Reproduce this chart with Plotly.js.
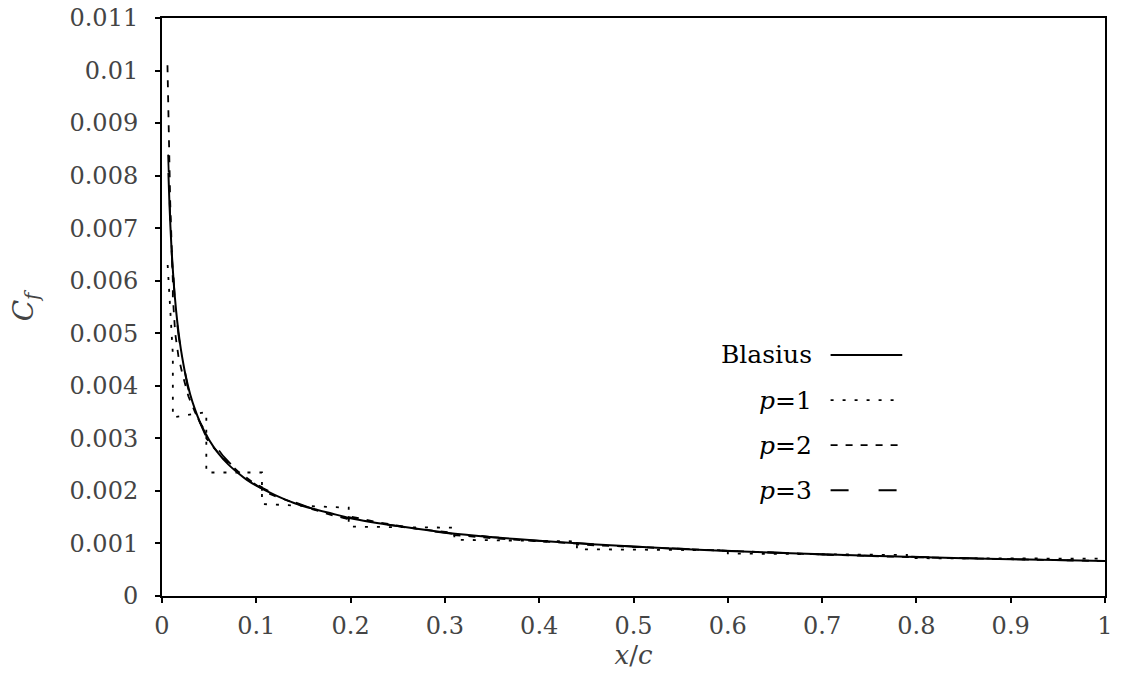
<!DOCTYPE html>
<html>
<head>
<meta charset="utf-8">
<script src="https://cdn.plot.ly/plotly-3.0.1.min.js"></script>
<style>
html,body{margin:0;padding:0;background:#fff;}
#chart{width:1127px;height:686px;}
</style>
</head>
<body>
<div id="chart"></div>
<script>
// ---- data ----
const blasiusX = [0.0068, 0.008, 0.01, 0.0125, 0.015, 0.0175, 0.02, 0.025, 0.03, 0.035, 0.04, 0.05, 0.06, 0.07, 0.08, 0.09, 0.1, 0.12, 0.14, 0.16, 0.18, 0.2, 0.25, 0.3, 0.35, 0.4, 0.5, 0.6, 0.7, 0.8, 0.9, 1.0];
const blasiusY = [0.00805, 0.00742, 0.00664, 0.00594, 0.00542, 0.00502, 0.00470, 0.00420, 0.00383, 0.00355, 0.00332, 0.00297, 0.00271, 0.00251, 0.00235, 0.00221, 0.00210, 0.00192, 0.00177, 0.00166, 0.00157, 0.00148, 0.00133, 0.00121, 0.00112, 0.00105, 0.00094, 0.000857, 0.000794, 0.000742, 0.000700, 0.000664];

const p1X = [0.006, 0.0115, 0.0115, 0.047, 0.047, 0.106, 0.106, 0.198, 0.198, 0.31, 0.31, 0.44, 0.44, 0.6, 0.6, 0.79, 0.79, 1.0];
const p1Y = [0.0063, 0.0046, 0.0034, 0.0035, 0.00235, 0.00235, 0.00175, 0.00168, 0.00132, 0.0013, 0.00107, 0.00104, 0.00089, 0.00087, 0.00081, 0.00078, 0.00072, 0.00071];

const p2X = [0.0058, 0.0073, 0.0087, 0.0115,
             0.0115, 0.014, 0.0175, 0.022, 0.028, 0.035, 0.041, 0.047,
             0.047, 0.055, 0.065, 0.08, 0.095, 0.106,
             0.106, 0.12, 0.14, 0.16, 0.18, 0.198,
             0.198, 0.23, 0.27, 0.31,
             0.31, 0.35, 0.4, 0.44,
             0.44, 0.5, 0.55, 0.6,
             0.6, 0.7, 0.79,
             0.79, 0.9, 1.0];
const p2Y = [0.0101, 0.0088, 0.0075, 0.0060,
             0.0057, 0.0050, 0.00455, 0.0042, 0.0038, 0.0035, 0.00328, 0.0031,
             0.0030, 0.00282, 0.00262, 0.00238, 0.00218, 0.00207,
             0.0020, 0.0019, 0.00177, 0.00165, 0.00154, 0.00146,
             0.00152, 0.0014, 0.00128, 0.0012,
             0.00116, 0.0011, 0.00104, 0.001,
             0.00098, 0.00093, 0.00089, 0.00086,
             0.00086, 0.00079, 0.000745,
             0.00074, 0.0007, 0.000665];

const p3X = [0.0065, 0.008, 0.0095, 0.0115,
             0.0115, 0.014, 0.018, 0.022, 0.027, 0.033, 0.04, 0.047,
             0.047, 0.055, 0.065, 0.08, 0.095, 0.106,
             0.106, 0.12, 0.14, 0.16, 0.18, 0.198,
             0.198, 0.23, 0.27, 0.31,
             0.31, 0.35, 0.4, 0.44,
             0.44, 0.5, 0.55, 0.6,
             0.6, 0.7, 0.79,
             0.79, 0.9, 1.0];
const p3Y = [0.0084, 0.0074, 0.0068, 0.0061,
             0.0063, 0.0055, 0.0049, 0.0045, 0.0040, 0.0036, 0.0033, 0.00302,
             0.00312, 0.0029, 0.00266, 0.00238, 0.00217, 0.00204,
             0.00206, 0.00194, 0.00179, 0.00166, 0.00156, 0.00147,
             0.0015, 0.00139, 0.00127, 0.00118,
             0.0012, 0.00112, 0.00105, 0.00099,
             0.00101, 0.00094, 0.0009, 0.00086,
             0.000865, 0.00079, 0.000745,
             0.00075, 0.0007, 0.000665];

const legendLabels = ['Blasius', '<i>p</i>=1', '<i>p</i>=2', '<i>p</i>=3'];
const xTickVals = [0, 0.1, 0.2, 0.3, 0.4, 0.5, 0.6, 0.7, 0.8, 0.9, 1];
const xTickText = ['0', '0.1', '0.2', '0.3', '0.4', '0.5', '0.6', '0.7', '0.8', '0.9', '1'];
const yTickVals = [0, 0.001, 0.002, 0.003, 0.004, 0.005, 0.006, 0.007, 0.008, 0.009, 0.01, 0.011];
const yTickText = ['0', '0.001', '0.002', '0.003', '0.004', '0.005', '0.006', '0.007', '0.008', '0.009', '0.01', '0.011'];

// ---- styles ----
const FONT = 'DejaVu Serif';
const dashes = ['solid', '3px,9px', '7px,8px', '18px,30px'];
const widths = [2, 1.8, 1.8, 1.8];

const traces = [
  {x: blasiusX, y: blasiusY, mode: 'lines', line: {color: '#000', width: widths[0], dash: dashes[0], shape: 'spline', smoothing: 0.6}},
  {x: p1X, y: p1Y, mode: 'lines', line: {color: '#000', width: widths[1], dash: dashes[1]}},
  {x: p2X, y: p2Y, mode: 'lines', line: {color: '#000', width: widths[2], dash: dashes[2]}},
  {x: p3X, y: p3Y, mode: 'lines', line: {color: '#000', width: widths[3], dash: dashes[3]}}
];

// custom legend: text on the left, line sample on the right
const legTop = 0.417, legStep = 0.078;
const annotations = [], shapes = [];
legendLabels.forEach((lab, i) => {
  const yy = legTop - i * legStep;
  annotations.push({xref: 'paper', yref: 'paper', x: 0.691, y: yy, xanchor: 'right', yanchor: 'middle',
    text: lab, showarrow: false, font: {family: FONT, size: 25, color: '#000'}});
  shapes.push({type: 'line', xref: 'paper', yref: 'paper', x0: 0.709, x1: 0.785, y0: yy, y1: yy,
    line: {color: '#000', width: widths[i], dash: dashes[i]}});
});

const layout = {
  width: 1127, height: 686,
  margin: {l: 162, r: 22, t: 18, b: 90},
  paper_bgcolor: '#fff', plot_bgcolor: '#fff',
  showlegend: false,
  font: {family: FONT, size: 24},
  xaxis: {
    range: [0, 1], tickvals: xTickVals, ticktext: xTickText,
    showgrid: false, zeroline: false, showline: true, mirror: true,
    linecolor: '#000', linewidth: 2, ticks: 'outside', ticklen: 5, tickwidth: 2, tickcolor: '#000',
    ticklabelstandoff: 2,
    title: {text: '<i>x</i>/<i>c</i>', font: {family: FONT, size: 26}, standoff: 4}
  },
  yaxis: {
    range: [0, 0.011], tickvals: yTickVals, ticktext: yTickText,
    showgrid: false, zeroline: false, showline: true, mirror: true,
    linecolor: '#000', linewidth: 2, ticks: 'outside', ticklen: 5, tickwidth: 2, tickcolor: '#000',
    ticklabelstandoff: 12,
    title: {text: '<i>C</i><sub><i>f</i></sub>', font: {family: FONT, size: 28}, standoff: 28}
  },
  annotations: annotations,
  shapes: shapes
};

Plotly.newPlot('chart', traces, layout, {staticPlot: true});
</script>
</body>
</html>
